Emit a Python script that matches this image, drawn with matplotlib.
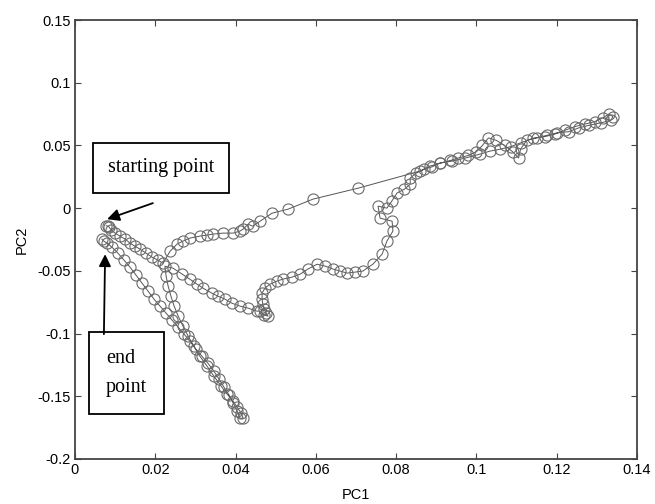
#!/usr/bin/env python3
"""PC1/PC2 trajectory with start and end annotations."""

import matplotlib

matplotlib.use("Agg")
import matplotlib.pyplot as plt
import numpy as np

# trajectory pieces, in time order (PC1, PC2)
start_pc1 = [0.0078, 0.0082, 0.0085, 0.0090, 0.0100, 0.0112, 0.0125, 0.0137, 0.0149,
             0.0162, 0.0177, 0.0192, 0.0207, 0.0219]
start_pc2 = [-0.0140, -0.0144, -0.0150, -0.0175, -0.0199, -0.0223, -0.0247, -0.0279, -0.0303,
             -0.0327, -0.0359, -0.0391, -0.0415, -0.0439]

rise_pc1 = [0.0237, 0.0254, 0.0269, 0.0286, 0.0311, 0.0329, 0.0344, 0.0369, 0.0394, 0.0411,
            0.0419, 0.0431, 0.0443, 0.0461, 0.0491, 0.0531, 0.0593, 0.0705]
rise_pc2 = [-0.0343, -0.0287, -0.0263, -0.0239, -0.0223, -0.0215, -0.0207, -0.0199, -0.0199, -0.0183,
            -0.0167, -0.0128, -0.0144, -0.0104, -0.0040, -0.0008, 0.0072, 0.0159]

band_out_pc1 = [0.0859, 0.0884, 0.0909, 0.0939, 0.0972, 0.1009, 0.1034, 0.1059, 0.1085, 0.1110,
                0.1141, 0.1170, 0.1195, 0.1220, 0.1245, 0.1270, 0.1295, 0.1315, 0.1330, 0.1340,
                0.1335]
band_out_pc2 = [0.0295, 0.0335, 0.0359, 0.0375, 0.0399, 0.0431, 0.0455, 0.0470, 0.0490, 0.0520,
                0.0558, 0.0570, 0.0590, 0.0620, 0.0650, 0.0670, 0.0690, 0.0720, 0.0750, 0.0730,
                0.0700]

band_back_pc1 = [0.1310, 0.1280, 0.1255, 0.1230, 0.1200, 0.1175, 0.1150, 0.1125, 0.1110, 0.1105,
                 0.1090, 0.1070, 0.1050, 0.1030, 0.1015, 0.1000, 0.0980, 0.0955, 0.0935, 0.0910,
                 0.0890, 0.0870, 0.0850, 0.0835, 0.0835, 0.0820, 0.0802, 0.0790, 0.0777, 0.0755,
                 0.0760, 0.0790, 0.0792, 0.0777, 0.0765, 0.0742]
band_back_pc2 = [0.0680, 0.0660, 0.0640, 0.0610, 0.0600, 0.0580, 0.0560, 0.0540, 0.0470, 0.0400,
                 0.0450, 0.0500, 0.0540, 0.0560, 0.0500, 0.0450, 0.0420, 0.0400, 0.0380, 0.0360,
                 0.0330, 0.0310, 0.0280, 0.0240, 0.0190, 0.0150, 0.0120, 0.0060, 0.0000, 0.0016,
                 -0.0080, -0.0104, -0.0183, -0.0263, -0.0367, -0.0447]

low_pc1 = [0.0717, 0.0698, 0.0678, 0.0660, 0.0643, 0.0623, 0.0603, 0.0580, 0.0561, 0.0541,
           0.0518, 0.0503, 0.0486, 0.0473, 0.0466, 0.0466, 0.0468, 0.0471, 0.0476, 0.0481,
           0.0470, 0.0461]
low_pc2 = [-0.0502, -0.0510, -0.0518, -0.0502, -0.0486, -0.0462, -0.0447, -0.0486, -0.0526, -0.0550,
           -0.0566, -0.0582, -0.0606, -0.0638, -0.0678, -0.0726, -0.0766, -0.0805, -0.0837, -0.0861,
           -0.0850, -0.0821]

back_pc1 = [0.0453, 0.0431, 0.0411, 0.0391, 0.0374, 0.0356, 0.0341, 0.0319, 0.0304, 0.0286,
            0.0267, 0.0244, 0.0224]
back_pc2 = [-0.0821, -0.0797, -0.0781, -0.0758, -0.0726, -0.0702, -0.0678, -0.0638, -0.0606, -0.0566,
            -0.0526, -0.0478, -0.0463]

tail_down_pc1 = [0.0227, 0.0232, 0.0239, 0.0247, 0.0257, 0.0269, 0.0282, 0.0296, 0.0311, 0.0329,
                 0.0346, 0.0364, 0.0379, 0.0394, 0.0404, 0.0414, 0.0419]
tail_down_pc2 = [-0.0542, -0.0622, -0.0702, -0.0781, -0.0861, -0.0941, -0.1021, -0.1100, -0.1180, -0.1260,
                 -0.1340, -0.1419, -0.1483, -0.1539, -0.1587, -0.1635, -0.1675]

tail_up_pc1 = [0.0411, 0.0404, 0.0394, 0.0384, 0.0371, 0.0359, 0.0346, 0.0331, 0.0316, 0.0301,
               0.0286, 0.0272, 0.0257, 0.0242, 0.0227, 0.0212, 0.0197, 0.0182, 0.0167, 0.0152,
               0.0137, 0.0122, 0.0107, 0.0092, 0.0080, 0.0072, 0.0067]
tail_up_pc2 = [-0.1675, -0.1619, -0.1555, -0.1491, -0.1427, -0.1364, -0.1300, -0.1236, -0.1180, -0.1124,
               -0.1061, -0.1005, -0.0949, -0.0893, -0.0837, -0.0781, -0.0726, -0.0662, -0.0598, -0.0534,
               -0.0470, -0.0415, -0.0359, -0.0311, -0.0279, -0.0263, -0.0247]

x_ticks = [0, 0.02, 0.04, 0.06, 0.08, 0.1, 0.12, 0.14]
x_tick_labels = ["0", "0.02", "0.04", "0.06", "0.08", "0.1", "0.12", "0.14"]
y_ticks = [-0.2, -0.15, -0.1, -0.05, 0, 0.05, 0.1, 0.15]
y_tick_labels = ["-0.2", "-0.15", "-0.1", "-0.05", "0", "0.05", "0.1", "0.15"]

# arrow tips / tails in data units
start_tip = (0.0080, -0.0088)
start_tail = (0.0194, 0.0040)
end_tip = (0.0075, -0.0367)
end_tail = (0.0072, -0.1005)


def main() -> None:
    pc1 = np.concatenate([start_pc1, rise_pc1, band_out_pc1, band_back_pc1, low_pc1,
                          back_pc1, tail_down_pc1, tail_up_pc1])
    pc2 = np.concatenate([start_pc2, rise_pc2, band_out_pc2, band_back_pc2, low_pc2,
                          back_pc2, tail_down_pc2, tail_up_pc2])

    plt.rcParams["font.family"] = ["Liberation Sans", "DejaVu Sans"]
    fig = plt.figure(figsize=(6.55, 5.04), dpi=100)
    ax = fig.add_axes([0.1145, 0.0893, 0.858, 0.871])

    ax.plot(pc1, pc2, "-", color="#555555", lw=0.7)
    ax.plot(pc1, pc2, "o", ms=8, mfc="none", mec="#6a6a6a", mew=0.8)

    ax.set_xlim(0, 0.14)
    ax.set_ylim(-0.2, 0.15)
    ax.set_xticks(x_ticks)
    ax.set_xticklabels(x_tick_labels)
    ax.set_yticks(y_ticks)
    ax.set_yticklabels(y_tick_labels)
    ax.tick_params(direction="in", top=True, right=True, length=4, width=0.8,
                   color="#444444", labelsize=10.5, pad=3)
    for side in ax.spines.values():
        side.set_color("#444444")
        side.set_linewidth(1.3)
    ax.set_xlabel("PC1", fontsize=10.5, labelpad=8)
    ax.set_ylabel("PC2", fontsize=10.5, labelpad=6)

    serif = ["Liberation Serif", "DejaVu Serif"]
    ax.text(0.0587, 0.663, "starting point", family=serif, fontsize=14.5,
            transform=ax.transAxes, va="center", ha="left",
            bbox=dict(boxstyle="square,pad=0.75", fc="white", ec="black", lw=1.3))
    ax.text(0.055, 0.196, "end\npoint", family=serif, fontsize=14.5, linespacing=1.7,
            transform=ax.transAxes, va="center", ha="left",
            bbox=dict(boxstyle="square,pad=0.85", fc="white", ec="black", lw=1.3))

    arrow = dict(arrowstyle="-|>", mutation_scale=18, color="black", lw=1.3,
                 shrinkA=0, shrinkB=0)
    ax.annotate("", xy=start_tip, xytext=start_tail, arrowprops=arrow)
    ax.annotate("", xy=end_tip, xytext=end_tail, arrowprops=arrow)

    fig.savefig("out.png", dpi=100)
    plt.close(fig)


if __name__ == "__main__":
    main()
